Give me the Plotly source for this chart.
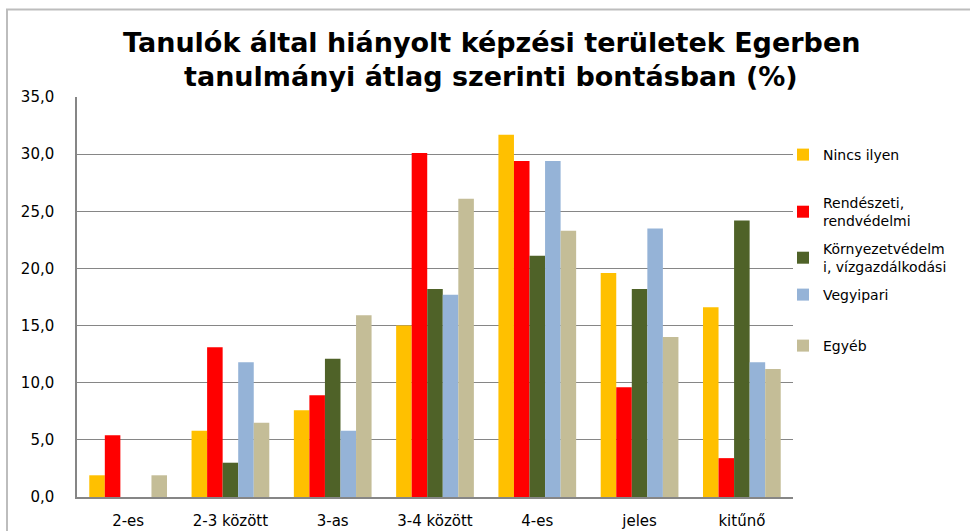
import plotly.graph_objects as go

categories = ["2-es", "2-3 között", "3-as", "3-4 között", "4-es", "jeles", "kitűnő"]
nincs_ilyen = [1.9, 5.8, 7.6, 15.0, 31.7, 19.6, 16.6]
rendeszeti = [5.4, 13.1, 8.9, 30.1, 29.4, 9.6, 3.4]
kornyezet = [0.0, 3.0, 12.1, 18.2, 21.1, 18.2, 24.2]
vegyipari = [0.0, 11.8, 5.8, 17.7, 29.4, 23.5, 11.8]
egyeb = [1.9, 6.5, 15.9, 26.1, 23.3, 14.0, 11.2]

series_names = ["Nincs ilyen", "Rendészeti,<br>rendvédelmi", "Környezetvédelm<br>i, vízgazdálkodási",
                "Vegyipari", "Egyéb"]
series_values = [nincs_ilyen, rendeszeti, kornyezet, vegyipari, egyeb]
colors = ["#FFC000", "#FF0000", "#4F6228", "#95B3D7", "#C4BD97"]

y_tickvals = [0, 5, 10, 15, 20, 25, 30, 35]
y_ticktext = ["0,0", "5,0", "10,0", "15,0", "20,0", "25,0", "30,0", "35,0"]

title_lines = ["Tanulók által hiányolt képzési területek Egerben",
               "tanulmányi átlag szerinti bontásban (%)"]

W, H = 970, 531
L, R, T, B = 77, 177, 97, 34
PW, PH = W - L - R, H - T - B


def px_x(px):
    return (px - L) / PW


def px_y(py):
    return (H - B - py) / PH


legend_names = ["legend", "legend2", "legend3", "legend4", "legend5"]
legend_ypx = [155, 212, 258, 295, 346]

fig = go.Figure()
for name, vals, col, lg in zip(series_names, series_values, colors, legend_names):
    fig.add_trace(go.Bar(name=name, x=categories, y=vals, marker=dict(color=col, line=dict(width=0)),
                         legend=lg))

leg_font = dict(family="DejaVu Sans", size=14, color="#000000")
legends = {}
for lg, ypx in zip(legend_names, legend_ypx):
    legends[lg] = dict(xref="container", yref="container", x=783 / W, y=1 - ypx / H,
                       xanchor="left", yanchor="middle", font=leg_font, bgcolor="rgba(0,0,0,0)",
                       itemwidth=30, borderwidth=0)

tick_font = dict(family="DejaVu Sans", size=15, color="#000000")

fig.update_layout(
    width=W, height=H,
    margin=dict(l=L, r=R, t=T, b=B, autoexpand=False),
    paper_bgcolor="white", plot_bgcolor="white",
    barmode="group", bargap=0.24, bargroupgap=0,
    showlegend=True,
    xaxis=dict(showgrid=False, showline=True, linecolor="#868686", linewidth=1.5,
               ticks="", tickfont=tick_font, ticklabelstandoff=9),
    yaxis=dict(range=[0, 35], tickvals=y_tickvals, ticktext=y_ticktext, showgrid=True,
               gridcolor="#868686", gridwidth=1, showline=True, linecolor="#868686", linewidth=1.5,
               zeroline=False, ticks="", tickfont=tick_font, ticklabelstandoff=18),
    **legends,
)

for line, ypx in zip(title_lines, [42, 76]):
    fig.add_annotation(text=line, xref="paper", yref="paper", x=px_x(491), y=px_y(ypx),
                       xanchor="center", yanchor="middle", showarrow=False,
                       font=dict(family="DejaVu Sans", size=27, color="#000000", weight="bold"))

# outer chart frame
fig.add_shape(type="rect", xref="paper", yref="paper",
              x0=px_x(7), x1=px_x(W + 20), y0=px_y(H + 20), y1=px_y(9.5),
              line=dict(color="#BDBDBD", width=2), fillcolor="rgba(0,0,0,0)", layer="below")

fig.write_html("out.html", config={"displayModeBar": False},
               post_script="document.body.style.margin='0';")
